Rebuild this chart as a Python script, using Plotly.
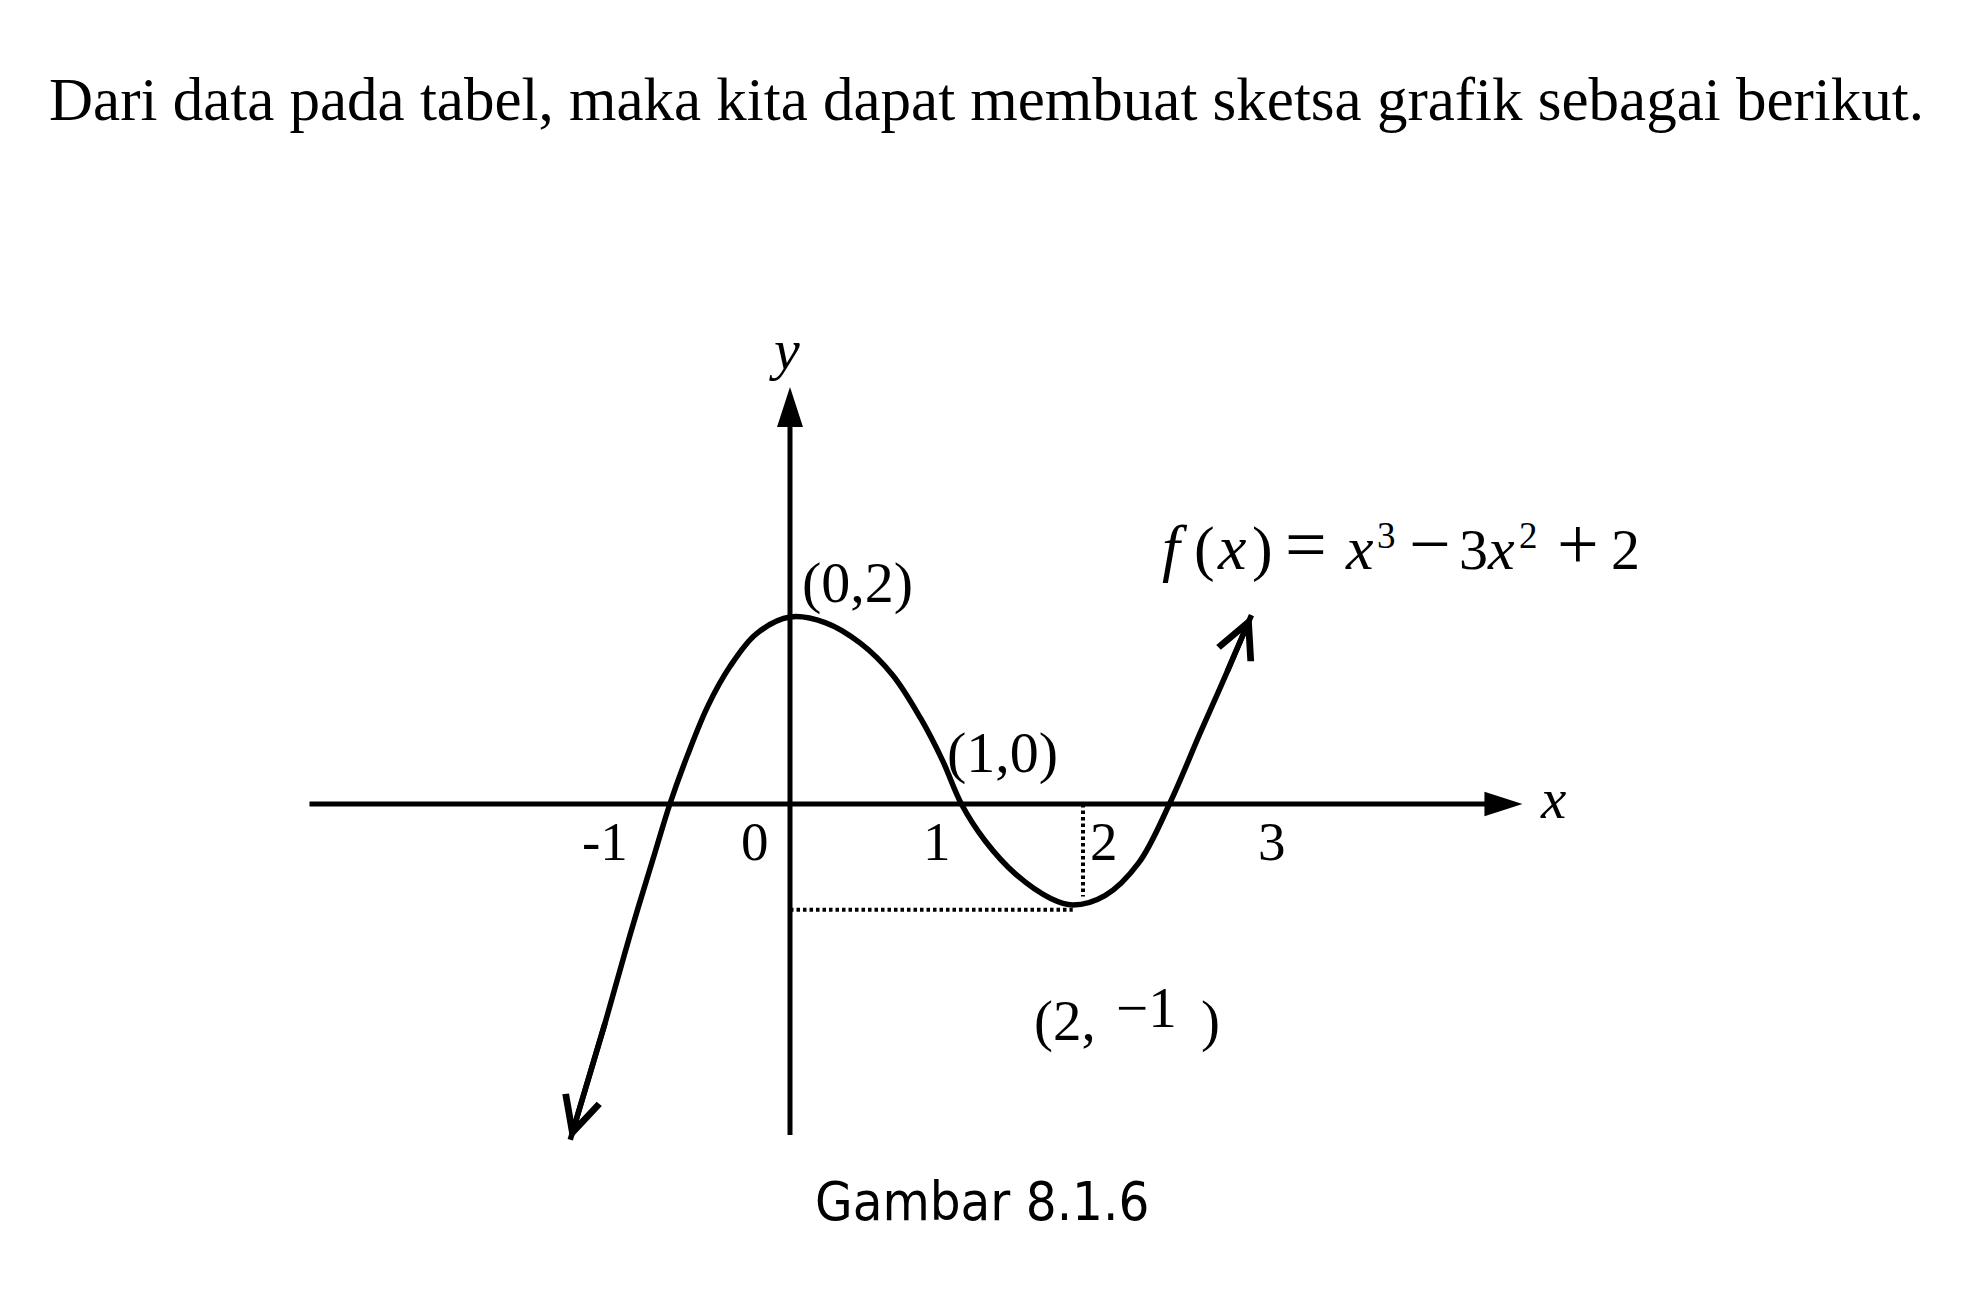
import plotly.graph_objects as go

# ---------------- canvas / scale ----------------
W, H = 1978, 1302
X0, XU = 790.0, 146.5    # pixel of x=0, pixels per x-unit
Y0, YU = 804.0, 93.5     # pixel of y=0, pixels per y-unit

# ---------------- data ----------------
curve_x = [-1.50, -1.26, -1.09, -0.92, -0.82, -0.70, -0.56, -0.41, -0.23, 0.00,
           0.24, 0.48, 0.70, 0.89, 1.04, 1.17, 1.33, 1.54, 1.78, 1.93,
           2.15, 2.38, 2.59, 2.80, 2.98, 3.15]
curve_y = [-3.59, -2.33, -1.39, -0.51, 0.00, 0.52, 1.05, 1.47, 1.82, 2.00,
           1.94, 1.72, 1.38, 0.92, 0.47, 0.00, -0.39, -0.75, -1.01, -1.08,
           -0.98, -0.63, 0.00, 0.76, 1.40, 2.02]

xaxis_x = [-3.28, 5.00]          # left end, arrow tip
yaxis_y = [-3.54, 4.46]          # bottom end, arrow tip

dot_h_x = [0.00, 1.93]           # dotted guide at the minimum value
dot_h_y = [-1.13, -1.13]
dot_v_x = [2.00, 2.00]           # dotted guide x = 2
dot_v_y = [0.00, -0.99]

tick_labels = ["-1", "0", "1", "2", "3"]
tick_label_x = [-1.26, -0.24, 1.00, 2.14, 3.29]

title_text = "Dari data pada tabel, maka kita dapat membuat sketsa grafik sebagai berikut."
caption_text = "Gambar 8.1.6"

# ---------------- figure ----------------
fig = go.Figure()

LW_AX = 5
ARROW_SIZE = 40
arrow_len_x = 0.951 * ARROW_SIZE / XU
arrow_len_y = 0.951 * ARROW_SIZE / YU

# x axis line + arrow
fig.add_trace(go.Scatter(x=[xaxis_x[0], xaxis_x[1] - 0.6 * arrow_len_x], y=[0, 0], mode="lines",
                         line=dict(color="black", width=LW_AX), hoverinfo="skip"))
fig.add_trace(go.Scatter(x=[xaxis_x[1]], y=[0], mode="markers", hoverinfo="skip",
                         marker=dict(symbol="arrow", angle=90, size=ARROW_SIZE, color="black",
                                     line=dict(width=0))))
# y axis line + arrow
fig.add_trace(go.Scatter(x=[0, 0], y=[yaxis_y[0], yaxis_y[1] - 0.6 * arrow_len_y], mode="lines",
                         line=dict(color="black", width=LW_AX), hoverinfo="skip"))
fig.add_trace(go.Scatter(x=[0], y=[yaxis_y[1]], mode="markers", hoverinfo="skip",
                         marker=dict(symbol="arrow", angle=0, size=ARROW_SIZE + 2, color="black",
                                     line=dict(width=0))))

# dotted guides
for gx, gy in ((dot_h_x, dot_h_y), (dot_v_x, dot_v_y)):
    fig.add_trace(go.Scatter(x=gx, y=gy, mode="lines", hoverinfo="skip",
                             line=dict(color="black", width=4, dash="3.5px,3px")))

# curve
fig.add_trace(go.Scatter(x=curve_x, y=curve_y, mode="lines", hoverinfo="skip",
                         line=dict(color="black", width=5.5, shape="spline", smoothing=1.0)))

annotations = []
# open arrow heads at both ends of the curve
for i_tip, i_prev in ((-1, -2), (0, 1)):
    annotations.append(dict(x=curve_x[i_tip], y=curve_y[i_tip], ax=curve_x[i_prev], ay=curve_y[i_prev],
                            xref="x", yref="y", axref="x", ayref="y", text="", showarrow=True,
                            arrowhead=5, arrowsize=1.25, arrowwidth=5.5, arrowcolor="black", standoff=0))

SERIF = "Liberation Serif, Times New Roman, serif"
SANS = "DejaVu Sans Condensed, Liberation Sans, Arial, sans-serif"


def txt(text, xc, base, size, family=SERIF, asc=0.891, desc=0.216, xanchor="center", xref="paper"):
    cy = base - (asc - desc) / 2.0 * size
    return dict(text=text, xref=xref, yref="paper",
                x=(xc / W if xref == "paper" else xc), y=1 - cy / H,
                xanchor=xanchor, yanchor="middle", showarrow=False,
                font=dict(family=family, size=size, color="black"))


# title
annotations.append(txt(title_text, 47, 120, 61, xanchor="left"))
# axis names
annotations.append(txt("<i>y</i>", 784, 369, 58))
annotations.append(txt("<i>x</i>", 1553, 818, 57))
# tick labels
for lab, lx in zip(tick_labels, tick_label_x):
    annotations.append(txt(lab, lx, 860, 55, xref="x"))
# point labels
annotations.append(txt("(0,2)", 857, 602, 58))
annotations.append(txt("(1,0)", 1002, 772, 58))
annotations.append(txt("(2,", 1065, 1040, 57))
annotations.append(txt("\u22121", 1146, 1027, 57))
annotations.append(txt(")", 1210, 1040, 57))
# equation f(x) = x^3 - 3x^2 + 2
eq_tokens = ["<i>f</i>", "(", "<i>x</i>", ")", "=", "<i>x</i>", "3", "\u2212", "3", "<i>x</i>", "2", "+", "2"]
eq_cx = [1175, 1204, 1231, 1262, 1306, 1359, 1386, 1430, 1473, 1501, 1528, 1578, 1625]
eq_base = [569, 569, 569, 569, 569, 569, 548, 569, 569, 569, 548, 569, 569]
eq_size = [64, 62, 64, 62, 74, 62, 37, 74, 58, 60, 37, 74, 58]
for t, cx, b, s in zip(eq_tokens, eq_cx, eq_base, eq_size):
    annotations.append(txt(t, cx, b, s))
# caption
annotations.append(txt(caption_text, 982, 1220, 54, family=SANS, asc=0.928, desc=0.236))

fig.update_layout(
    width=W, height=H, autosize=False,
    margin=dict(l=0, r=0, t=0, b=0, pad=0),
    paper_bgcolor="white", plot_bgcolor="white",
    showlegend=False,
    xaxis=dict(visible=False, range=[(0 - X0) / XU, (W - X0) / XU], fixedrange=True),
    yaxis=dict(visible=False, range=[(Y0 - H) / YU, Y0 / YU], fixedrange=True),
    annotations=annotations,
)

fig.write_html("out.html", config={"displayModeBar": False},
               post_script="document.body.style.margin='0px';document.body.style.overflow='hidden';")
